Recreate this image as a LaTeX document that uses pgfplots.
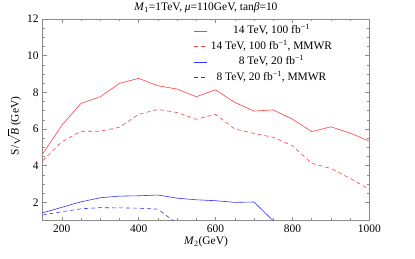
\documentclass[border=0pt]{standalone}
\usepackage{fontspec}
\setmainfont{Liberation Serif}
\usepackage{pgfplots}
\pgfplotsset{compat=1.18}
\definecolor{myred}{rgb}{1,0.25,0.25}
\definecolor{myblue}{rgb}{0.2,0.2,1}
\definecolor{framegray}{rgb}{0.55,0.55,0.55}
\begin{document}
\begin{tikzpicture}
\useasboundingbox (-42.6bp,-38.3bp) rectangle (372.4bp,220.7bp);
\begin{axis}[
  scale only axis,
  width=326.7bp, height=201.7bp,
  at={(0,0)}, anchor=south west,
  xmin=150, xmax=1000, ymin=1, ymax=12,
  xtick={200,400,600,800,1000},
  ytick={2,4,6,8,10,12},
  minor x tick num=3,
  minor y tick num=3,
  tick align=inside,
  major tick length=4bp,
  minor tick length=2.5bp,
  axis line style={framegray, line width=0.6pt},
  every tick/.style={framegray, line width=0.5pt},
  tick label style={font=\fontsize{11.5}{13}\selectfont, black},
  /pgf/number format/assume math mode=true,
  /pgf/number format/1000 sep={},
  yticklabel style={xshift=-0.5bp},
  xticklabel style={yshift=-0.5bp},
  title={\textit{M}\textsubscript{1}=1TeV, \textit{μ}=110GeV, tan\textit{β}=10},
  title style={font=\fontsize{11.5}{13}\selectfont, yshift=-3.5bp},
  xlabel={\textit{M}\textsubscript{2}(GeV)},
  ylabel={S/$\sqrt{\textit{B}}$ (GeV)},
  xlabel style={font=\fontsize{11.5}{13}\selectfont, yshift=2.5bp},
  ylabel style={font=\fontsize{11.5}{13}\selectfont,
    at={(axis description cs:-0.086,0.47)}, anchor=center, inner sep=0pt},
  clip=true,
  legend cell align=center,
  legend style={draw=none, fill=none, inner sep=0pt,
    at={(0.4634,0.972)}, anchor=north west,
    font=\fontsize{11.5}{13}\selectfont,
    nodes={inner sep=1bp, text height=8bp, text depth=2.5bp},
    row sep=3bp, column sep=2bp},
  legend image code/.code={\draw[#1] (0bp,0bp) -- (13bp,0bp);},
]
\addplot[myred, line width=0.6pt] coordinates {
(150,4.64) (200,6.2) (250,7.4) (300,7.76) (350,8.49) (400,8.76) (450,8.36)
(500,8.18) (550,7.76) (600,8.14) (650,7.45) (700,6.98) (750,7.04) (800,6.54)
(850,5.86) (900,6.12) (950,5.78) (1000,5.34)};
\addlegendentry{14 TeV, 100 fb\textsuperscript{−1}}
\addplot[myred, line width=0.6pt, dash pattern=on 4bp off 3bp] coordinates {
(150,4.27) (200,5.3) (250,5.88) (300,5.88) (350,6.1) (400,6.8) (450,7.07)
(500,6.9) (550,6.53) (600,6.8) (650,6.0) (700,5.76) (750,5.55) (800,5.09)
(850,4.13) (900,3.85) (950,3.31) (1000,2.71)};
\addlegendentry{14 TeV, 100 fb\textsuperscript{−1}, MMWR}
\addplot[myblue, line width=0.6pt] coordinates {
(150,1.43) (200,1.73) (250,2.03) (300,2.25) (350,2.34) (400,2.36) (450,2.40)
(500,2.23) (550,2.14) (600,2.09) (650,2.0) (700,2.02) (750,1.0)};
\addlegendentry{8 TeV, 20 fb\textsuperscript{−1}}
\addplot[myblue, line width=0.6pt, dash pattern=on 4bp off 3bp] coordinates {
(150,1.31) (200,1.49) (250,1.65) (300,1.71) (350,1.70) (400,1.68) (450,1.63)
(500,0.84)};
\addlegendentry{8 TeV, 20 fb\textsuperscript{−1}, MMWR}
\end{axis}
\end{tikzpicture}
\end{document}
